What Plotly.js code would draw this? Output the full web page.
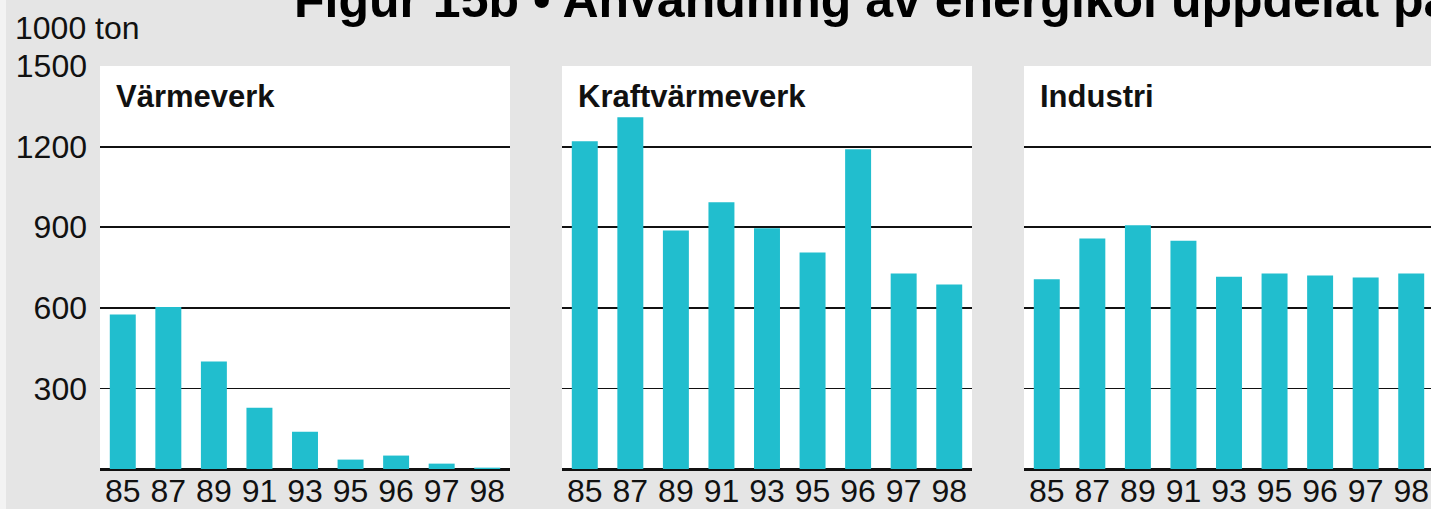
<!DOCTYPE html>
<html>
<head>
<meta charset="utf-8">
<script src="https://cdn.plot.ly/plotly-3.0.1.min.js"></script>
<style>
html,body{margin:0;padding:0;background:#e5e5e5;}
#chart{width:1431px;height:509px;}
</style>
</head>
<body>
<div id="chart"></div>
<script>
// ---- data ----
var years = ['85', '87', '89', '91', '93', '95', '96', '97', '98'];
var varmeverk = [575, 603, 400, 228, 139, 35, 50, 20, 5];
var kraftvarmeverk = [1220, 1309, 888, 993, 896, 806, 1190, 728, 687];
var industri = [706, 858, 907, 850, 716, 728, 720, 713, 728];
var panelTitles = ['Värmeverk', 'Kraftvärmeverk', 'Industri'];
var yTicks = [0, 300, 600, 900, 1200, 1500];
var yTickText = ['', '300', '600', '900', '1200', '1500'];
var unitLabel = '1000 ton';
var chartTitle = 'Figur 15b • Användning av energikol uppdelat på';

// ---- layout geometry (pixels) ----
var W = 1431, H = 509;
var M = {l: 100, r: 0, t: 66, b: 40};
var PW = W - M.l - M.r, PH = H - M.t - M.b;
function px2x(p) { return (p - M.l) / PW; }
function px2y(p) { return 1 - (p - M.t) / PH; }

var barColor = '#21bece';
var tickFont = {family: 'Liberation Sans, Arial, sans-serif', size: 32, color: '#111'};
var boldFont = {family: 'Liberation Sans, Arial, sans-serif', size: 31, color: '#111', weight: 700};

var series = [varmeverk, kraftvarmeverk, industri];
var domains = [[px2x(100), px2x(510)], [px2x(562), px2x(972)], [px2x(1024), 1]];
var xRanges = [[-0.5, 8.5], [-0.5, 8.5], [-0.5, 8.5 - 3 / 45.56]];

var traces = series.map(function (s, i) {
  return {
    type: 'bar',
    x: years,
    y: s,
    xaxis: i === 0 ? 'x' : 'x' + (i + 1),
    yaxis: i === 0 ? 'y' : 'y' + (i + 1),
    marker: {color: barColor, line: {width: 0}},
    hoverinfo: 'x+y',
    showlegend: false
  };
});

var layout = {
  width: W, height: H,
  margin: M,
  paper_bgcolor: '#e5e5e5',
  plot_bgcolor: '#ffffff',
  bargap: 0.43,
  font: tickFont,
  showlegend: false,
  annotations: [],
  shapes: [{
    type: 'rect', xref: 'paper', yref: 'paper',
    x0: px2x(0), x1: px2x(6), y0: px2y(H), y1: px2y(0),
    fillcolor: '#f3f3f3', line: {width: 0}, layer: 'below'
  }]
};

for (var i = 0; i < 3; i++) {
  var xk = i === 0 ? 'xaxis' : 'xaxis' + (i + 1);
  var yk = i === 0 ? 'yaxis' : 'yaxis' + (i + 1);
  var yid = i === 0 ? 'y' : 'y' + (i + 1);
  var xid = i === 0 ? 'x' : 'x' + (i + 1);
  layout[xk] = {
    domain: domains[i],
    anchor: yid,
    type: 'category',
    range: xRanges[i],
    showgrid: false,
    zeroline: false,
    showline: true,
    linecolor: '#111',
    linewidth: 2,
    ticks: '',
    tickfont: tickFont,
    ticklabelstandoff: -7,
    fixedrange: true
  };
  layout[yk] = {
    domain: [0, 1],
    anchor: xid,
    range: [0, 1500],
    tickmode: 'array',
    tickvals: yTicks,
    ticktext: yTickText,
    showticklabels: i === 0,
    showgrid: true,
    gridcolor: '#111',
    gridwidth: 1.8,
    zeroline: true,
    zerolinecolor: '#111',
    zerolinewidth: 2,
    showline: false,
    ticks: '',
    tickfont: tickFont,
    ticklabelstandoff: 12,
    fixedrange: true
  };
  var panelLeft = [100, 562, 1024][i];
  layout.annotations.push({
    xref: 'paper', yref: 'paper',
    x: px2x(panelLeft + 14), y: px2y(97),
    xanchor: 'left', yanchor: 'middle',
    text: panelTitles[i],
    showarrow: false,
    font: boldFont
  });
}

layout.annotations.push({
  xref: 'paper', yref: 'paper',
  x: px2x(13), y: px2y(28),
  xanchor: 'left', yanchor: 'middle',
  text: unitLabel, showarrow: false,
  font: tickFont
});
layout.annotations.push({
  xref: 'paper', yref: 'paper',
  x: px2x(292), y: px2y(0),
  xanchor: 'left', yanchor: 'middle',
  text: chartTitle, showarrow: false,
  font: {family: 'Liberation Sans, Arial, sans-serif', size: 50, color: '#000', weight: 700}
});

Plotly.newPlot('chart', traces, layout, {displayModeBar: false, staticPlot: true});
</script>
</body>
</html>
